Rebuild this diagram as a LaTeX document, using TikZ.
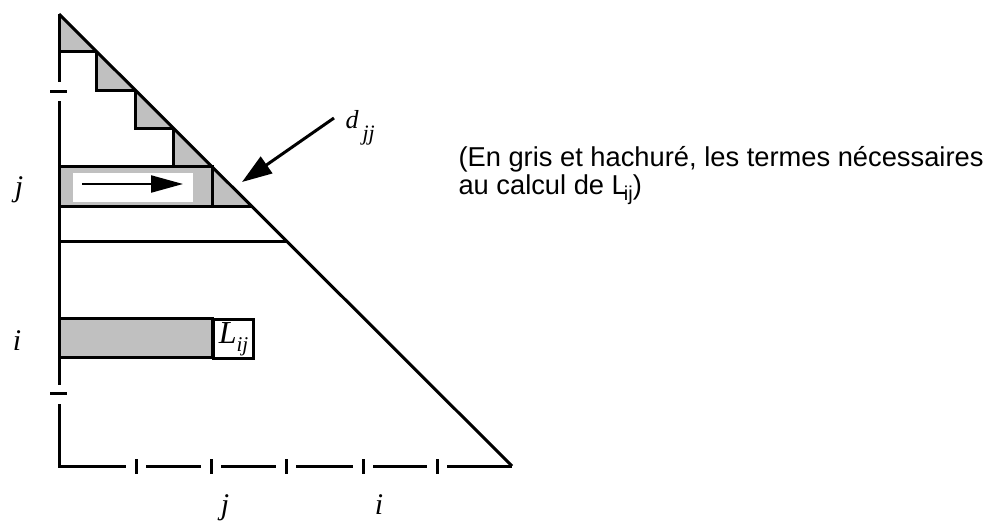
\documentclass[tikz,border=0pt]{standalone}
\usepackage{fontspec}
\setmainfont{Liberation Serif}
\setsansfont{Liberation Sans}
\usetikzlibrary{arrows.meta,positioning,calc}
\definecolor{shade}{HTML}{C0C0C0}

\begin{document}
\begin{tikzpicture}[x=1pt,y=-1pt,line width=3pt,line join=miter,
  idx/.style={font=\fontsize{30}{32}\selectfont\itshape, inner sep=0pt, anchor=base},
  shaded/.style={fill=shade, draw=black}]
  \useasboundingbox (0,0) rectangle (989,520);

  % stair of diagonal terms
  \foreach \ya/\yb in {14/51,51/90,90/128,128/166,166/206}
    \filldraw[shaded] ({45+\ya},\ya) -- ({45+\ya},\yb) -- ({45+\yb},\yb);

  % row j
  \filldraw[shaded] (59,166) rectangle (212,206);
  \fill[white] (73,173) rectangle (193,202);
  \coordinate (rowa) at (82,184);
  \coordinate (rowb) at (183,184);
  \draw[line width=2.2pt, -{Triangle[length=32pt,width=17pt]}] (rowa) -- (rowb);

  % triangle and axes
  \draw (59,14) -- (512,466);
  \draw (59,14) -- (59,82);
  \draw (59,101) -- (59,385);
  \draw (59,404) -- (59,466) -- (126,466);
  \draw (50,91) -- (67,91);
  \draw (50,393) -- (67,393);
  \foreach \a/\b in {146/201,221/276,296/353,373/427,447/512}
    \draw (\a,466) -- (\b,466);
  \foreach \t in {136,211,286,363,437}
    \draw (\t,459) -- (\t,474);

  \draw (59,241) -- (286,241);

  % row i
  \filldraw[shaded] (59,318) rectangle (212,357);
  \node[draw, fill=white, anchor=north west, inner sep=0pt,
        minimum width=40pt, minimum height=39pt] (lij) at (212,318)
    {\fontsize{32}{34}\selectfont\itshape L\raisebox{-8pt}{\fontsize{21}{22}\selectfont ij}};

  % labels
  \node[idx] (rj) at (19,196) {j};
  \node[idx] (ri) at (17,350) {i};
  \node[idx] (cj) at (225,514) {j};
  \node[idx] (ci) at (379,514) {i};

  \node[font=\fontsize{26}{28}\selectfont\itshape, inner sep=0pt, anchor=base west] (djj) at (344,128)
    {d\kern4pt\raisebox{-12pt}{\fontsize{22}{24}\selectfont jj}};
  \coordinate (djjtail) at (334,118);
  \coordinate (djjtip) at (242,182);
  \draw[-{Triangle[length=30pt,width=20pt]}] (djjtail) -- (djjtip);

  \node[font=\sffamily\fontsize{27.3}{28}\selectfont, align=left, inner sep=0pt, anchor=north west] (note) at (457,145)
    {(En gris et hachuré, les termes nécessaires\\au calcul de L\kern-3pt\raisebox{-6pt}{\fontsize{20}{20}\selectfont ij})};
\end{tikzpicture}
\end{document}
